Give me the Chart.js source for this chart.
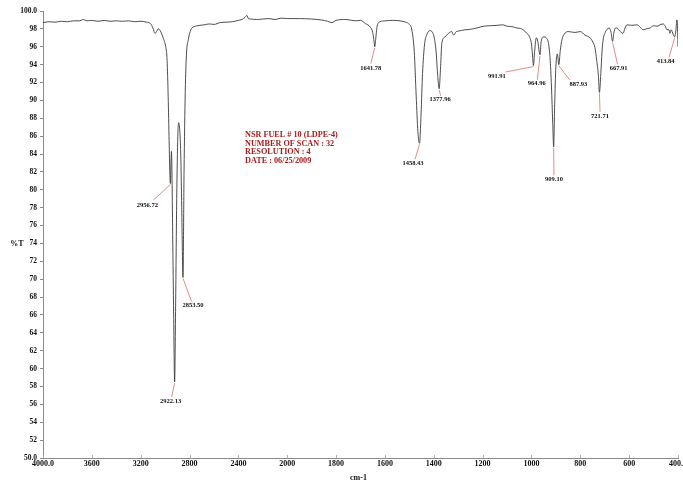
<!DOCTYPE html>
<html>
<head>
<meta charset="utf-8">
<title>NSR FUEL # 10 (LDPE-4) – FT-IR</title>
<script src="https://cdn.jsdelivr.net/npm/chart.js@4/dist/chart.umd.min.js"></script>
<style>
  html, body { margin: 0; padding: 0; background: #ffffff; }
  #wrap { width: 683px; height: 482px; }
</style>
</head>
<body>
<div id="wrap"><canvas id="c" width="683" height="482"></canvas></div>
<script>
// Wavenumber (cm-1) and %T of the LDPE spectrum, high to low wavenumber
const wavenumbers = [
  4000, 3950, 3900, 3850, 3800, 3750, 3700, 3670, 3640, 3600,
  3550, 3500, 3450, 3400, 3350, 3300, 3250, 3200, 3150, 3120,
  3100, 3083, 3070, 3056, 3040, 3015, 2995, 2985, 2976, 2968,
  2962, 2956.72, 2952, 2948, 2944, 2938, 2930, 2922.13, 2914, 2905,
  2896, 2889, 2880, 2872, 2864, 2853.50, 2845, 2835, 2825, 2810,
  2795, 2780, 2750, 2714, 2680, 2640, 2600, 2550, 2500, 2450,
  2400, 2370, 2345, 2330, 2318, 2300, 2250, 2200, 2150, 2100,
  2050, 2000, 1950, 1900, 1860, 1835, 1817, 1800, 1760, 1720,
  1700, 1680, 1660, 1650, 1644, 1641.78, 1638, 1632, 1620, 1600,
  1570, 1538, 1515, 1504, 1490, 1480, 1472, 1465, 1458.43, 1452,
  1446, 1438, 1428, 1415, 1405, 1398, 1390, 1384, 1377.96, 1372,
  1367, 1354, 1340, 1327, 1318, 1308, 1300, 1272, 1250, 1224,
  1195, 1170, 1140, 1116, 1101, 1080, 1060, 1040, 1022, 1008,
  1000, 995, 991.91, 987, 980, 974, 968, 964.96, 961, 952,
  945, 937, 931, 924, 918, 913, 909.10, 905, 900, 894,
  887.93, 882, 875, 866, 850, 822, 800, 781, 760, 748,
  740, 733, 726, 721.71, 716, 711, 707, 698, 690, 682,
  674, 667.91, 663, 656, 651, 640, 625, 617, 609, 590,
  568, 555, 543, 530, 515, 500, 486, 470, 461, 452,
  445, 437, 433, 428, 420, 413.84, 408, 405, 403, 400
];
const transmittance = [
  98.7, 98.8, 98.75, 98.85, 98.8, 98.9, 98.9, 99.05, 98.9, 98.95,
  98.85, 98.95, 98.85, 98.9, 98.85, 98.9, 98.8, 98.85, 98.75, 98.6,
  98.1, 97.5, 97.7, 98.0, 97.8, 96.95, 96.0, 94.8, 91.0, 86.0,
  82.2, 80.7, 83.2, 84.3, 82.0, 75.0, 66.0, 58.5, 67.0, 79.0,
  86.0, 87.5, 86.6, 84.0, 78.0, 70.2, 82.0, 91.0, 95.2, 96.8,
  97.7, 98.1, 98.3, 98.4, 98.45, 98.55, 98.5, 98.7, 98.75, 98.8,
  98.95, 99.05, 99.3, 99.5, 99.15, 99.1, 99.05, 99.1, 99.15, 99.05,
  99.2, 99.15, 99.15, 99.1, 99.0, 98.85, 98.7, 98.95, 99.05, 98.9,
  98.95, 98.6, 98.2, 97.6, 96.5, 96.0, 96.8, 98.3, 98.8, 98.9,
  98.95, 98.9, 98.75, 98.6, 97.9, 95.5, 90.5, 86.5, 85.2, 88.5,
  93.0, 96.2, 97.4, 97.8, 97.6, 97.0, 95.3, 92.8, 91.3, 93.8,
  96.4, 97.1, 97.5, 97.7, 97.3, 97.7, 97.75, 97.9, 97.95, 98.1,
  98.3, 98.35, 98.4, 98.45, 98.3, 98.25, 98.1, 98.0, 97.6, 97.1,
  96.3, 94.8, 93.9, 95.5, 97.0, 96.6, 95.4, 95.1, 96.4, 97.1,
  97.1, 96.9, 96.5, 94.8, 91.5, 87.5, 84.8, 89.5, 93.8, 95.2,
  94.0, 95.6, 96.8, 97.4, 97.7, 97.6, 97.7, 97.3, 97.0, 96.5,
  95.9, 94.5, 92.8, 90.9, 93.0, 95.5, 96.7, 97.6, 97.95, 98.1,
  97.6, 96.6, 97.5, 98.1, 98.1, 97.8, 97.5, 98.1, 98.45, 98.4,
  98.45, 98.2, 97.9, 98.0, 98.1, 98.35, 98.3, 98.5, 98.55, 98.3,
  97.9, 97.9, 97.5, 97.9, 97.4, 97.1, 98.0, 99.0, 98.8, 96.0
];

// Picked peaks (cm-1)
const peakPositions = [2956.72, 2922.13, 2853.50, 1641.78, 1458.43, 1377.96,
                       991.91, 964.96, 909.10, 887.93, 721.71, 667.91, 413.84];

// Axis ticks
const xTicks = [4000, 3600, 3200, 2800, 2400, 2000, 1800, 1600, 1400, 1200, 1000, 800, 600, 400];
const xTickLabels = ['4000.0', '3600', '3200', '2800', '2400', '2000', '1800', '1600',
                     '1400', '1200', '1000', '800', '600', '400.0'];

// Sample information block
const infoLines = ['NSR FUEL # 10 (LDPE-4)', 'NUMBER OF SCAN : 32', 'RESOLUTION : 4', 'DATE : 06/25/2009'];

// The wavenumber axis is drawn at half scale above 2000 cm-1
function fold(w) { return w > 2000 ? 2000 + (w - 2000) / 2 : w; }

const points = wavenumbers.map((w, i) => ({ x: fold(w), y: transmittance[i] }));

// Label placement around each peak: [text dx, text dy, leader end dx, leader end dy]
const peakLabelPlacement = {
  '2956.72': [-23, 21.5, -17, 16.5],
  '2922.13': [-4, 19, -3, 15],
  '2853.50': [10, 28, 8.5, 24],
  '1641.78': [-4, 21.5, -4, 17],
  '1458.43': [-6.5, 20, -4.5, 16],
  '1377.96': [1, 10.5, 1.5, 7],
  '991.91': [-36.5, 10.5, -28, 6.5],
  '964.96': [-3.3, 29, -2.7, 25],
  '909.10': [0.3, 32.5, 0.3, 28.5],
  '887.93': [19.5, 19.5, 11, 15.5],
  '721.71': [0.6, 23.6, 0.6, 19.5],
  '667.91': [6, 27, 5, 23],
  '413.84': [-9, 24.5, -5.6, 20.5]
};

const serif = '"Liberation Serif", "Times New Roman", serif';

const spectrumAnnotations = {
  id: 'spectrumAnnotations',
  afterDatasetsDraw(chart) {
    const ctx = chart.ctx;
    const xs = chart.scales.x, ys = chart.scales.y;
    const area = chart.chartArea;
    ctx.save();

    // small inner tick marks on the wavenumber axis
    ctx.strokeStyle = '#b0b0b0';
    ctx.lineWidth = 1;
    xTicks.forEach(w => {
      const px = Math.round(xs.getPixelForValue(fold(w))) + 0.5;
      ctx.beginPath();
      ctx.moveTo(px, area.bottom - 3);
      ctx.lineTo(px, area.bottom);
      ctx.stroke();
    });

    // peak labels with leader lines
    ctx.font = 'bold 6.5px ' + serif;
    ctx.textAlign = 'center';
    ctx.textBaseline = 'middle';
    peakPositions.forEach(p => {
      const t = transmittance[wavenumbers.indexOf(p)];
      const px = xs.getPixelForValue(fold(p));
      const py = ys.getPixelForValue(t);
      const key = p.toFixed(2);
      const pl = peakLabelPlacement[key];
      ctx.strokeStyle = '#d9706c';
      ctx.lineWidth = 0.8;
      ctx.beginPath();
      ctx.moveTo(px, py + 1);
      ctx.lineTo(px + pl[2], py + pl[3]);
      ctx.stroke();
      ctx.fillStyle = '#111111';
      ctx.fillText(key, px + pl[0], py + pl[1]);
    });

    // sample information
    ctx.font = 'bold 8.2px ' + serif;
    ctx.textAlign = 'left';
    ctx.fillStyle = '#a81c1c';
    const ix = area.left + 202;
    const iy = ys.getPixelForValue(86.6);
    infoLines.forEach((s, i) => ctx.fillText(s, ix, iy + 4 + i * 8.6));

    // axis titles
    ctx.fillStyle = '#111111';
    ctx.font = 'bold 8px ' + serif;
    ctx.textAlign = 'center';
    ctx.fillText('%T', 17, ys.getPixelForValue(74));
    ctx.fillText('cm-1', (area.left + area.right) / 2 - 2, 478);
    ctx.restore();
  }
};

new Chart(document.getElementById('c'), {
  type: 'line',
  data: {
    datasets: [{
      data: points,
      borderColor: '#3a3a3a',
      borderWidth: 0.9,
      pointRadius: 0,
      fill: false,
      cubicInterpolationMode: 'monotone'
    }]
  },
  options: {
    responsive: false,
    animation: false,
    devicePixelRatio: 1,
    layout: { autoPadding: false, padding: { top: 11, right: 5, left: 0, bottom: 0 } },
    plugins: { legend: { display: false }, tooltip: { enabled: false }, title: { display: false } },
    scales: {
      x: {
        type: 'linear',
        reverse: true,
        min: 400,
        max: 3000,
        afterBuildTicks: s => { s.ticks = xTicks.map(w => ({ value: fold(w) })); },
        afterFit: s => { s.height = 24; s.paddingLeft = 0; s.paddingRight = 0; },
        ticks: {
          autoSkip: false,
          maxRotation: 0,
          padding: 1,
          color: '#111111',
          font: { family: serif, size: 8, weight: 'bold' },
          callback: (v, i) => xTickLabels[i]
        },
        grid: { drawOnChartArea: false, drawTicks: false },
        border: { display: true, color: '#8a8a8a', width: 1 }
      },
      y: {
        type: 'linear',
        min: 50,
        max: 100,
        afterFit: s => { s.width = 43; s.paddingTop = 0; s.paddingBottom = 0; },
        ticks: {
          stepSize: 2,
          autoSkip: false,
          padding: 3,
          color: '#111111',
          font: { family: serif, size: 7.5, weight: 'bold' },
          callback: v => (v === 100 ? '100.0' : v === 50 ? '50.0' : String(v))
        },
        grid: { drawOnChartArea: false, tickLength: 3, color: '#8a8a8a' },
        border: { display: true, color: '#8a8a8a', width: 1 }
      }
    }
  },
  plugins: [spectrumAnnotations]
});
</script>
</body>
</html>
